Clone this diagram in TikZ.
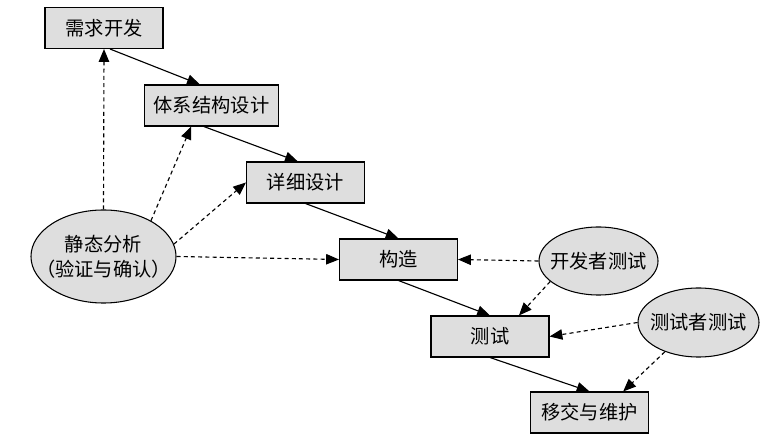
\documentclass[tikz,border=0pt]{standalone}
\usepackage{fontspec}
\setmainfont{Noto Sans CJK SC}
\usetikzlibrary{arrows.meta,shapes.geometric}

\begin{document}
\begin{tikzpicture}[x=0.025cm, y=-0.025cm,
  every node/.style={font=\fontsize{13.7pt}{17.7pt}\selectfont},
  stage/.style={draw, fill=black!13, line width=0.75pt, minimum width=2.95cm,
    minimum height=1.025cm, inner xsep=0.24cm},
  check/.style={draw, ellipse, fill=black!13, line width=0.75pt, inner sep=0pt},
  flow/.style={line width=0.8pt, -{Triangle[length=3.2mm, width=2.6mm]}},
  verify/.style={flow, dash pattern=on 1mm off 0.8mm}]
  \useasboundingbox (0,0) rectangle (768,444);

  % Development stages: gray boxes down the staircase
  \node[stage] (req) at (104,28) {需求开发};
  \node[stage] (arch) at (211.5,105.5) {体系结构设计};
  \node[stage] (detail) at (305.5,182.5) {详细设计};
  \node[stage] (build) at (398.5,259.5) {构造};
  \node[stage] (test) at (490,336.5) {测试};
  \node[stage] (handover) at (589.5,412.5) {移交与维护};

  % Quality activities: gray ellipses
  \node[check, minimum width=3.625cm, minimum height=2.325cm, align=center] (static)
    at (103.5,256.5) {\makebox[0pt]{静态分析}\\\makebox[0pt]{（验证与确认）}};
  \node[check, minimum width=2.975cm, minimum height=1.7cm] (devtest)
    at (598.5,261) {\makebox[0pt]{开发者测试}};
  \node[check, minimum width=3.025cm, minimum height=1.725cm] (testertest)
    at (698.5,322.5) {\makebox[0pt]{测试者测试}};

  % Solid flow from stage to stage
  \foreach \a/\b in {req.-74/arch.119, arch.-110/detail.110, detail.south/build.north,
                     build.south/test.north, test.south/handover.north} {
    \draw[flow] (\a) -- (\b);
  }

  % Dashed checks
  \foreach \a/\b in {static.north/req.south, static.37/arch.-134, static.10/detail.west,
                     static.east/build.west, devtest.west/build.east, devtest.-157/test.36,
                     testertest.west/test.east, testertest.-139/handover.32} {
    \draw[verify] (\a) -- (\b);
  }
\end{tikzpicture}
\end{document}
